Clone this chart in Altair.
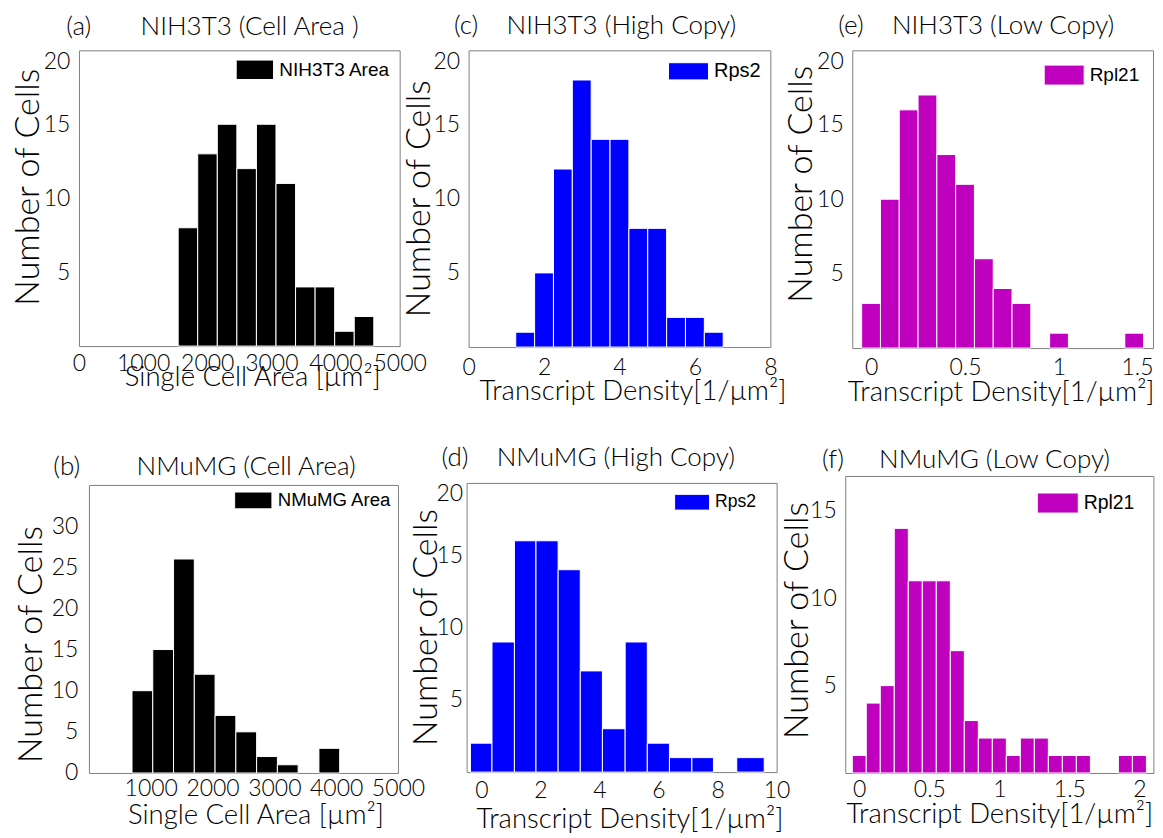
import altair as alt
import pandas as pd

NB = "\u00a0"

# ---------------- data ----------------
# (a) NIH3T3 cell area
a_left = [1547, 1852, 2157, 2462, 2767, 3072, 3377, 3682, 3987, 4292]
a_right = [1852, 2157, 2462, 2767, 3072, 3377, 3682, 3987, 4292, 4597]
a_count = [8, 13, 15, 12, 15, 11, 4, 4, 1, 2]

# (b) NMuMG cell area
b_left = [697, 1033, 1369, 1705, 2041, 2377, 2713, 3049, 3721]
b_right = [1033, 1369, 1705, 2041, 2377, 2713, 3049, 3385, 4057]
b_count = [10, 15, 26, 12, 7, 5, 2, 1, 3]

# (c) NIH3T3 Rps2
c_left = [1.25, 1.75, 2.25, 2.75, 3.25, 3.75, 4.25, 4.75, 5.25, 5.75, 6.25]
c_right = [1.75, 2.25, 2.75, 3.25, 3.75, 4.25, 4.75, 5.25, 5.75, 6.25, 6.75]
c_count = [1, 5, 12, 18, 14, 14, 8, 8, 2, 2, 1]

# (d) NMuMG Rps2
d_left = [-0.37, 0.36, 1.12, 1.85, 2.60, 3.35, 4.10, 4.87, 5.62, 6.37, 7.13, 8.65]
d_right = [0.36, 1.12, 1.85, 2.60, 3.35, 4.10, 4.87, 5.62, 6.37, 7.13, 7.86, 9.58]
d_count = [2, 9, 16, 16, 14, 7, 3, 9, 2, 1, 1, 1]

# (e) NIH3T3 Rpl21
e_left = [-0.05, 0.05, 0.15, 0.25, 0.35, 0.45, 0.55, 0.65, 0.75, 0.95, 1.35]
e_right = [0.05, 0.15, 0.25, 0.35, 0.45, 0.55, 0.65, 0.75, 0.85, 1.05, 1.45]
e_count = [3, 10, 16, 17, 13, 11, 6, 4, 3, 1, 1]

# (f) NMuMG Rpl21
f_left = [-0.05, 0.05, 0.15, 0.25, 0.35, 0.45, 0.55, 0.65, 0.75, 0.85, 0.95,
          1.05, 1.15, 1.25, 1.35, 1.45, 1.55, 1.85, 1.95]
f_right = [0.05, 0.15, 0.25, 0.35, 0.45, 0.55, 0.65, 0.75, 0.85, 0.95, 1.05,
           1.15, 1.25, 1.35, 1.45, 1.55, 1.65, 1.95, 2.05]
f_count = [1, 4, 5, 14, 11, 11, 11, 7, 3, 2, 2, 1, 2, 2, 1, 1, 1, 1, 1]

AREA_T = "Single Cell Area [µm²]"
DENS_T = "Transcript Density[1/µm²]"
BLACK, BLUE, MAG = "#000000", "#0000ff", "#bf00bf"
FONT = "Lato"
LEG_FONT = "Liberation Sans"


def panel(left, right, count, name, color, title, t_dx, t_off, w, h,
          xdom, xvals, ydom, yvals, xtitle, xlp, xtx, xty, ylp, ytx, yty,
          lgx, lgy, lgw, lgr, lgf, xflush=False, yflush=False):
    df = pd.DataFrame({"left": left, "right": right, "count": count,
                       "zero": [0] * len(count), "series": [name] * len(count)})
    path = f"M-1,-{lgr}H1V{lgr}H-1Z"
    return alt.Chart(df).mark_rect(stroke="white", strokeWidth=1).encode(
        x=alt.X("left:Q", scale=alt.Scale(domain=xdom, nice=False, zero=False),
                axis=alt.Axis(values=xvals, title=xtitle, grid=False, ticks=False,
                              domain=False, labelFlush=xflush, labelOverlap=False,
                              format="~r",
                              labelFont=FONT, labelFontSize=23, labelFontWeight=300,
                              labelColor="black", labelPadding=xlp,
                              titleFont=FONT, titleFontSize=27.5, titleFontWeight=300,
                              titleColor="black", titleX=xtx, titleY=xty,
                              titleAlign="center", titleBaseline="alphabetic")),
        x2="right:Q",
        y=alt.Y("count:Q", scale=alt.Scale(domain=ydom, nice=False, zero=True),
                axis=alt.Axis(values=yvals, title="Number of Cells", grid=False,
                              ticks=False, domain=False, labelOverlap=False,
                              labelFlush=yflush, format="~r",
                              labelFont=FONT, labelFontSize=23, labelFontWeight=300,
                              labelColor="black", labelPadding=ylp,
                              titleFont=FONT, titleFontSize=34, titleFontWeight=300,
                              titleColor="black", titleX=ytx, titleY=yty,
                              titleAngle=270, titleAlign="center",
                              titleBaseline="middle")),
        y2="zero:Q",
        color=alt.Color("series:N", scale=alt.Scale(domain=[name], range=[color]),
                        legend=alt.Legend(title=None, orient="none", legendX=lgx,
                                          legendY=lgy, symbolType=path,
                                          symbolSize=lgw * lgw, symbolStrokeColor="white",
                                          symbolStrokeWidth=1, symbolOpacity=1,
                                          labelFont=LEG_FONT, labelFontSize=lgf,
                                          labelColor="black", labelOffset=5,
                                          padding=0)),
    ).properties(
        width=w, height=h,
        title=alt.TitleParams(text=title, anchor="start", frame="group", dx=t_dx,
                              offset=t_off, font=FONT, fontSize=26, fontWeight=300,
                              color="black", baseline="alphabetic"),
    )


def spacer(w, h):
    return alt.Chart(pd.DataFrame({"s": []})).mark_point(opacity=0).properties(
        width=w, height=h,
        view=alt.ViewBackground(stroke="transparent", fill="transparent"))


def hcat(*items):
    return alt.hconcat(*items, spacing=0, bounds="flush").resolve_scale(
        color="independent").resolve_legend(color="independent")


def vcat(*items):
    return alt.vconcat(*items, spacing=0, bounds="flush").resolve_scale(
        color="independent").resolve_legend(color="independent")


pa = panel(a_left, a_right, a_count, "NIH3T3 Area", BLACK,
           "(a)" + NB * 7 + "NIH3T3 (Cell Area )", -12.7, -11, 321, 296,
           [0, 5000], [0, 1000, 2000, 3000, 4000, 5000], [0, 20], [5, 10, 15, 20],
           AREA_T, 6, 173.5, 39.7, 9, -50, 136.5, 156.6, 0, 37.4, 0.52, 19,
           yflush=True)
pc = panel(c_left, c_right, c_count, "Rps2", BLUE,
           "(c)" + NB * 4 + "NIH3T3 (High Copy)", -14.7, -9.7, 302, 297,
           [0, 8], [0, 2, 4, 6, 8], [0, 20], [5, 10, 15, 20],
           DENS_T, 9, 164, 52, 9, -49, 148, 199.6, 0.5, 40, 0.43, 20,
           yflush=True)
pe = panel(e_left, e_right, e_count, "Rpl21", MAG,
           "(e)" + NB * 4 + "NIH3T3 (Low Copy)", -14.1, -9.6, 301, 298,
           [-0.1, 1.5], [0, 0.5, 1, 1.5], [0, 20], [5, 10, 15, 20],
           DENS_T, 8, 148.5, 52.7, 9, -51, 133.5, 191.6, 4.3, 40, 0.5, 19,
           xflush=True, yflush=True)
pb = panel(b_left, b_right, b_count, "NMuMG Area", BLACK,
           "(b)" + NB * 8 + "NMuMG (Cell Area)", -35.7, -20, 309.3, 288.3,
           [0, 5000], [1000, 2000, 3000, 4000, 5000], [0, 35], [0, 5, 10, 15, 20, 25, 30],
           AREA_T, 5, 166.6, 51, 11, -57, 159.3, 145, -4, 37.3, 0.45, 18.6)
pd_ = panel(d_left, d_right, d_count, "Rps2", BLUE,
            "(d)" + NB * 4 + "NMuMG (High Copy)", -25, -9.2, 310.3, 289.4,
            [-0.5, 10], [0, 2, 4, 6, 8, 10], [0, 20], [5, 10, 15, 20],
            DENS_T, 7, 163, 55.6, 4, -40.5, 144.2, 207.7, 1.3, 35, 0.45, 17.6,
            yflush=True)
pf = panel(f_left, f_right, f_count, "Rpl21", MAG,
           "(f)" + NB * 5 + "NMuMG (Low Copy)", -23.3, -17.6, 308.4, 297.3,
           [-0.1, 2.1], [0, 0.5, 1, 1.5, 2], [0, 17], [5, 10, 15],
           DENS_T, 6, 154.2, 49.3, 9, -48, 144.3, 191.7, 6.1, 41, 0.49, 19.4)

# Row 1: panels separated by invisible spacer views
row1 = hcat(pa, spacer(68.7, 1), pc, spacer(81.7, 1), pe)
# Row 2: nested groups take no room in a flush layout, spacers set the offsets
cell_b = hcat(spacer(10, 1), vcat(spacer(1, 9), pb))
cell_d = vcat(spacer(1, 6.6), pd_)
row2 = hcat(cell_b, spacer(387.3, 1), cell_d, spacer(378.3, 1), pf)

chart = vcat(row1, spacer(1, 425.7), row2).properties(
    padding={"left": 3, "top": 4, "right": 0, "bottom": 0},
    background="white",
).configure_view(stroke="#808080", strokeWidth=1)

chart.save("out.html", embed_options={"renderer": "svg", "actions": False})
